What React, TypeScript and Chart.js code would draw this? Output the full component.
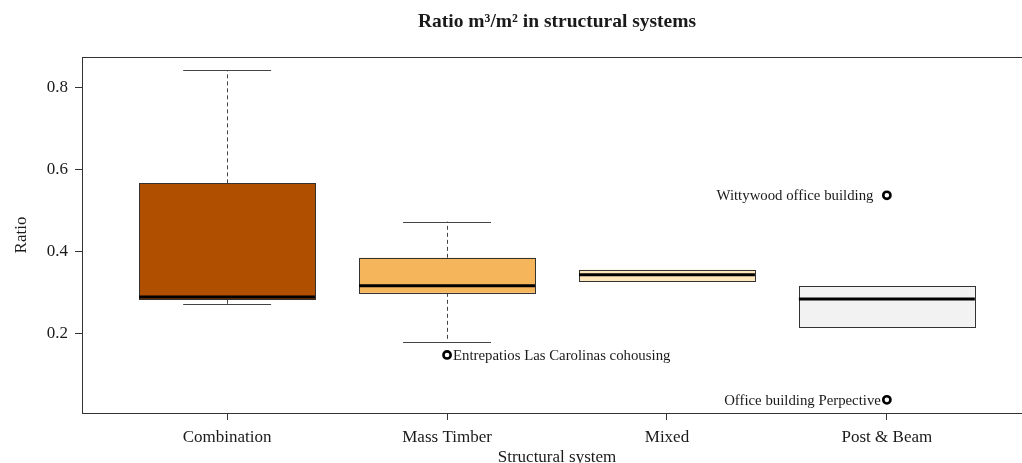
import React, { useEffect, useRef } from "react";
import { Chart, registerables } from "chart.js";
Chart.register(...registerables);

const categories = ["Combination", "Mass Timber", "Mixed", "Post & Beam"];
const whiskerLow = [0.273, 0.181, 0.329, 0.217];
const q1 = [0.283, 0.3, 0.329, 0.217];
const median = [0.29, 0.317, 0.344, 0.285];
const q3 = [0.566, 0.385, 0.356, 0.317];
const whiskerHigh = [0.841, 0.473, 0.356, 0.317];
const boxColors = ["#B04F00", "#F5B55A", "#FEE6BB", "#F2F2F2"];
const outlierCategory = [2, 4, 4];
const outlierValues = [0.149, 0.537, 0.04];
const outlierLabels = [
  "Entrepatios Las Carolinas cohousing",
  "Wittywood office building  ",
  "Office building Perpective",
];
const outlierLabelSide = ["right", "left", "left"];
const yTicks = [0.2, 0.4, 0.6, 0.8];

const SERIF = "'Liberation Serif', 'Times New Roman', serif";
const TEXT = "#1a1a1a";

const boxPlugin = {
  id: "boxPlugin",
  beforeDatasetsDraw(chart: any) {
    const { ctx, chartArea, scales } = chart;
    const xs = scales.x;
    const ys = scales.y;
    ctx.save();
    ctx.beginPath();
    ctx.rect(chartArea.left, chartArea.top, chartArea.right - chartArea.left, chartArea.bottom - chartArea.top);
    ctx.clip();
    categories.forEach((_, i) => {
      const cx = xs.getPixelForValue(i + 1);
      const half = xs.getPixelForValue(i + 1.4) - cx;
      const cap = half / 2;
      const yLo = ys.getPixelForValue(whiskerLow[i]);
      const yQ1 = ys.getPixelForValue(q1[i]);
      const yMed = ys.getPixelForValue(median[i]);
      const yQ3 = ys.getPixelForValue(q3[i]);
      const yHi = ys.getPixelForValue(whiskerHigh[i]);
      const px = Math.round(cx) + 0.5;
      // whiskers
      ctx.strokeStyle = "#444";
      ctx.lineWidth = 1;
      if (whiskerHigh[i] > q3[i]) {
        ctx.setLineDash([4, 3]);
        ctx.beginPath();
        ctx.moveTo(px, yQ3);
        ctx.lineTo(px, yHi);
        ctx.stroke();
        ctx.setLineDash([]);
        ctx.beginPath();
        ctx.moveTo(cx - cap, Math.round(yHi) + 0.5);
        ctx.lineTo(cx + cap, Math.round(yHi) + 0.5);
        ctx.stroke();
      }
      if (whiskerLow[i] < q1[i]) {
        ctx.setLineDash([4, 3]);
        ctx.beginPath();
        ctx.moveTo(px, yQ1);
        ctx.lineTo(px, yLo);
        ctx.stroke();
        ctx.setLineDash([]);
        ctx.beginPath();
        ctx.moveTo(cx - cap, Math.round(yLo) + 0.5);
        ctx.lineTo(cx + cap, Math.round(yLo) + 0.5);
        ctx.stroke();
      }
      // box
      ctx.fillStyle = boxColors[i];
      ctx.fillRect(cx - half, yQ3, half * 2, yQ1 - yQ3);
      ctx.strokeStyle = "#333";
      ctx.lineWidth = 1;
      ctx.strokeRect(Math.round(cx - half) + 0.5, Math.round(yQ3) + 0.5, Math.round(half * 2), Math.round(yQ1 - yQ3));
      // median
      ctx.strokeStyle = "#000";
      ctx.lineWidth = 3;
      ctx.beginPath();
      ctx.moveTo(cx - half, yMed);
      ctx.lineTo(cx + half, yMed);
      ctx.stroke();
    });
    ctx.restore();
  },
  afterDatasetsDraw(chart: any) {
    const { ctx, scales } = chart;
    const xs = scales.x;
    const ys = scales.y;
    ctx.save();
    ctx.font = `14.8px ${SERIF}`;
    ctx.fillStyle = TEXT;
    ctx.textBaseline = "middle";
    outlierLabels.forEach((lab, i) => {
      const px = xs.getPixelForValue(outlierCategory[i]);
      const py = ys.getPixelForValue(outlierValues[i]);
      if (outlierLabelSide[i] === "right") {
        ctx.textAlign = "left";
        ctx.fillText(lab, px + 6, py + 1);
      } else {
        ctx.textAlign = "right";
        ctx.fillText(lab, px - 6, py + 1);
      }
    });
    ctx.restore();
  },
  afterDraw(chart: any) {
    const { ctx, chartArea } = chart;
    ctx.save();
    ctx.strokeStyle = "#333";
    ctx.lineWidth = 1;
    ctx.strokeRect(
      Math.round(chartArea.left) + 0.5,
      Math.round(chartArea.top) + 0.5,
      Math.round(chartArea.right - chartArea.left),
      Math.round(chartArea.bottom - chartArea.top)
    );
    ctx.restore();
  },
};

export default function App() {
  const ref = useRef<HTMLCanvasElement>(null);
  useEffect(() => {
    if (!ref.current) return;
    const chart = new Chart(ref.current, {
      type: "scatter",
      data: {
        datasets: [
          {
            label: "Outliers",
            data: outlierValues.map((v, i) => ({ x: outlierCategory[i], y: v })),
            pointRadius: 3.6,
            pointHoverRadius: 3.6,
            borderWidth: 2.6,
            borderColor: "#000",
            backgroundColor: "#fff",
          },
        ],
      },
      plugins: [boxPlugin],
      options: {
        animation: false,
        responsive: false,
        layout: { padding: { top: 0, right: 8, left: 0, bottom: 0 } },
        plugins: {
          legend: { display: false },
          tooltip: { enabled: false },
          title: {
            display: true,
            fullSize: false,
            text: "Ratio m³/m² in structural systems",
            color: TEXT,
            font: { family: SERIF, size: 19.5, weight: "bold", lineHeight: 1.2 },
            padding: { top: 9.8, bottom: 23.8 },
          },
        },
        scales: {
          x: {
            type: "linear",
            min: 0.34,
            max: 4.66,
            afterBuildTicks: (s: any) => {
              s.ticks = categories.map((_, i) => ({ value: i + 1 }));
            },
            afterFit: (s: any) => {
              s.height = 57;
            },
            border: { display: false },
            grid: { drawOnChartArea: false, drawTicks: true, tickLength: 7, color: "#333" },
            ticks: {
              padding: 7.6,
              color: TEXT,
              font: { family: SERIF, size: 17, lineHeight: 1.2 },
              callback: (v: any) => categories[Math.round(Number(v)) - 1] ?? "",
              maxRotation: 0,
              autoSkip: false,
            },
            title: {
              display: true,
              text: "Structural system",
              color: TEXT,
              font: { family: SERIF, size: 17, lineHeight: 1.2 },
              padding: { top: 0, bottom: 2 },
            },
          },
          y: {
            type: "linear",
            min: 0.008,
            max: 0.873,
            afterBuildTicks: (s: any) => {
              s.ticks = yTicks.map((v) => ({ value: v }));
            },
            afterFit: (s: any) => {
              s.width = 82;
            },
            border: { display: false },
            grid: { drawOnChartArea: false, drawTicks: true, tickLength: 7, color: "#333" },
            ticks: {
              padding: 7,
              color: TEXT,
              font: { family: SERIF, size: 17, lineHeight: 1.2 },
              callback: (v: any) => Number(v).toFixed(1),
            },
            title: {
              display: true,
              text: "Ratio",
              color: TEXT,
              font: { family: SERIF, size: 17, lineHeight: 1.2 },
              padding: { top: 11, bottom: 0 },
            },
          },
        },
      },
    } as any);
    return () => chart.destroy();
  }, []);
  return (
    <div style={{ position: "fixed", left: 0, top: 0, width: 1022, height: 463, overflow: "hidden", background: "#fff" }}>
      <canvas ref={ref} width={1040} height={470} style={{ display: "block", width: 1040, height: 470 }} />
    </div>
  );
}
